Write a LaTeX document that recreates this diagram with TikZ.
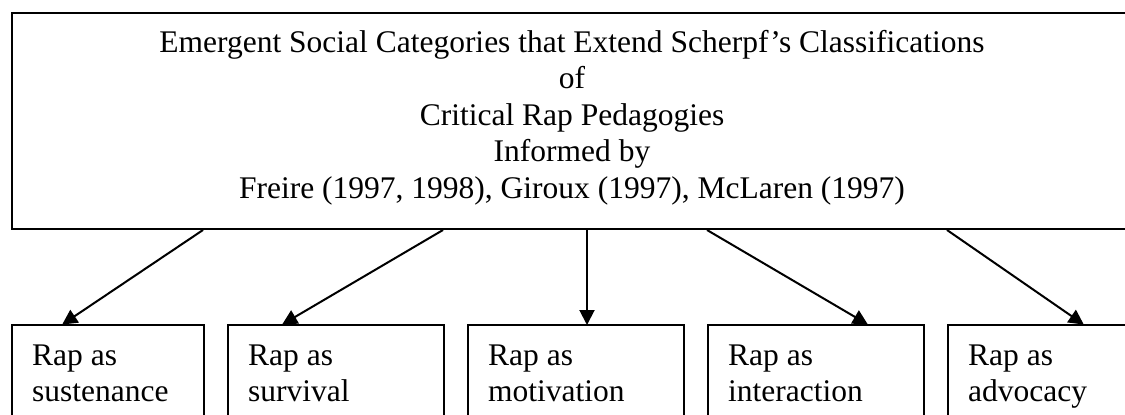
\documentclass[tikz,border=0pt]{standalone}
\usepackage{fontspec}
\setmainfont{Liberation Serif}
\usetikzlibrary{arrows.meta}
\tikzset{
  frame/.style={draw=black, line width=2pt, anchor=north west, inner sep=0pt},
  headtext/.style={anchor=base, align=center, inner sep=0pt,
    font=\fontsize{31.5}{36.5}\selectfont},
  leaftext/.style={anchor=base west, align=left, inner sep=0pt,
    font=\fontsize{31.5}{36.7}\selectfont},
  link/.style={draw=black, line width=2pt,
    -{Triangle[length=15pt,width=15pt]}, shorten >=-1pt},
}
\begin{document}
\begin{tikzpicture}[x=1pt,y=1pt]
  \useasboundingbox (0,0) rectangle (1125,-415);
  \clip (0,0) rectangle (1125,-415);
  \fill[white] (0,0) rectangle (1125,-415);

  % heading box and its text (anchored on the baseline of the last line)
  \node[frame, minimum width=1122pt, minimum height=216pt] (head) at (11,-12) {};
  \node[headtext] (headtxt) at (572,-198)
    {Emergent Social Categories that Extend Scherpf’s Classifications\\
     of\\ Critical Rap Pedagogies\\ Informed by\\
     Freire (1997, 1998), Giroux (1997), McLaren (1997)};

  % the five categories
  \node[frame, minimum width=192pt, minimum height=130pt] (c1) at (11,-324) {};
  \node[frame, minimum width=216pt, minimum height=130pt] (c2) at (227,-324) {};
  \node[frame, minimum width=216pt, minimum height=130pt] (c3) at (467,-324) {};
  \node[frame, minimum width=216pt, minimum height=130pt] (c4) at (707,-324) {};
  \node[frame, minimum width=216pt, minimum height=130pt] (c5) at (947,-324) {};

  \node[leaftext] (t1) at (32,-401.7)  {Rap as\\ sustenance};
  \node[leaftext] (t2) at (248,-401.7) {Rap as\\ survival};
  \node[leaftext] (t3) at (488,-401.7) {Rap as\\ motivation};
  \node[leaftext] (t4) at (728,-401.7) {Rap as\\ interaction};
  \node[leaftext] (t5) at (968,-401.7) {Rap as\\ advocacy};

  % connectors from the heading to each category
  \draw[link] (203,0 |- head.south) -- (63,0 |- c1.north);
  \draw[link] (443,0 |- head.south) -- (283,0 |- c2.north);
  \draw[link] (587,0 |- head.south) -- (587,0 |- c3.north);
  \draw[link] (707,0 |- head.south) -- (867,0 |- c4.north);
  \draw[link] (947,0 |- head.south) -- (1083,0 |- c5.north);
\end{tikzpicture}
\end{document}
